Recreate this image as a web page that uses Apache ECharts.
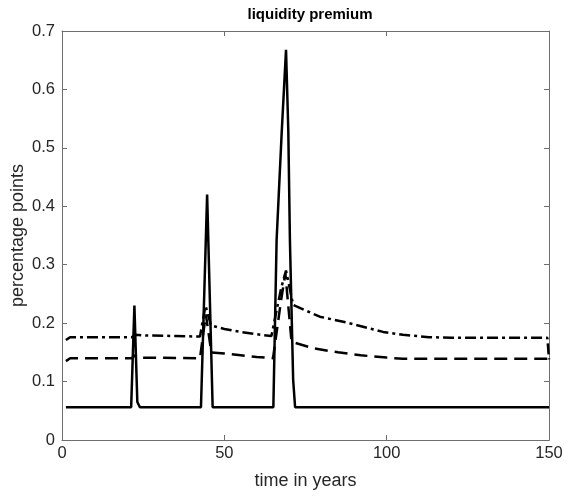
<!DOCTYPE html>
<html>
<head>
<meta charset="utf-8">
<script src="https://cdn.jsdelivr.net/npm/echarts@6/dist/echarts.min.js"></script>
<style>html,body{margin:0;padding:0;background:#fff}#c{width:570px;height:498px}</style>
</head>
<body>
<div id="c"></div>
<script>
// ---- data ----
var chartTitle = 'liquidity premium';
var xLabel = 'time in years';
var yLabel = 'percentage points';
var xTicks = [0, 50, 100, 150];
var yTicks = [0, 0.1, 0.2, 0.3, 0.4, 0.5, 0.6, 0.7];

var solidT = [1.2, 21.3, 22.3, 23.2, 24, 42.8, 44.7, 46.4, 65.1, 66.1, 67.7, 69.0, 69.7, 70.2, 71.2, 71.8, 150];
var solidV = [0.056, 0.056, 0.23, 0.065, 0.056, 0.056, 0.42, 0.056, 0.056, 0.342, 0.53, 0.668, 0.53, 0.342, 0.103, 0.056, 0.056];

var dashDotT = [1.2, 2.5, 21.5, 22.5, 25, 35, 42.5, 44.2, 45.9, 50, 55, 60, 64.5, 67.5, 69, 71.2, 79.4, 87.7, 98.9, 105, 113, 120, 149.5, 150];
var dashDotV = [0.171, 0.176, 0.176, 0.18, 0.179, 0.178, 0.177, 0.23, 0.196, 0.19, 0.185, 0.181, 0.178, 0.26, 0.29, 0.231, 0.211, 0.201, 0.185, 0.18, 0.176, 0.175, 0.175, 0.138];

var dashT = [1.2, 2.5, 21.5, 22.5, 23.5, 42.5, 44.3, 46, 50, 55, 60, 65, 67.5, 68.8, 70.7, 77.4, 85, 92, 100, 105, 150];
var dashV = [0.135, 0.14, 0.14, 0.145, 0.141, 0.14, 0.215, 0.15, 0.148, 0.145, 0.142, 0.14, 0.24, 0.285, 0.168, 0.157, 0.15, 0.145, 0.141, 0.139, 0.139];

function pairs(t, v) { return t.map(function (x, i) { return [x, v[i]]; }); }

var font = 'Liberation Sans, Arial, Helvetica, sans-serif';
var axisCol = '#6e6e6e';
var txtCol = '#262626';

function xAx(pos, show) {
  return {
    type: 'value', position: pos, min: xTicks[0], max: xTicks[xTicks.length - 1], interval: 50,
    name: show ? xLabel : '', nameLocation: 'middle', nameGap: 32, nameMoveOverlap: false,
    nameTextStyle: { fontFamily: font, fontSize: 18, color: txtCol },
    axisLine: { show: true, onZero: false, lineStyle: { color: axisCol, width: 1 } },
    axisTick: { show: true, inside: true, length: 5, lineStyle: { color: axisCol } },
    axisLabel: { show: show, fontFamily: font, fontSize: 16.5, color: txtCol, margin: 5,
      formatter: function (v) { return String(v); } },
    splitLine: { show: false }
  };
}
function yAx(pos, show) {
  return {
    type: 'value', position: pos, min: yTicks[0], max: yTicks[yTicks.length - 1], interval: 0.1,
    name: show ? yLabel : '', nameLocation: 'middle', nameGap: 35, nameMoveOverlap: false,
    nameTextStyle: { fontFamily: font, fontSize: 18, color: txtCol },
    axisLine: { show: true, onZero: false, lineStyle: { color: axisCol, width: 1 } },
    axisTick: { show: true, inside: true, length: 5, lineStyle: { color: axisCol } },
    axisLabel: { show: show, fontFamily: font, fontSize: 16.5, color: txtCol, margin: 7,
      formatter: function (v) { return String(+v.toFixed(1)); } },
    splitLine: { show: false }
  };
}

var chart = echarts.init(document.getElementById('c'), null, { renderer: 'canvas' });
chart.setOption({
  animation: false,
  backgroundColor: '#fff',
  title: {
    text: chartTitle, left: 305, top: 2, textAlign: 'center',
    textStyle: { fontFamily: font, fontSize: 15, fontWeight: 'bold', color: '#000' }
  },
  grid: { left: 62, right: 21, top: 31, bottom: 58, containLabel: false, outerBoundsMode: 'none' },
  xAxis: [xAx('bottom', true), xAx('top', false)],
  yAxis: [yAx('left', true), yAx('right', false)],
  series: [
    { type: 'line', data: pairs(solidT, solidV), showSymbol: false, symbol: 'none',
      lineStyle: { color: '#000', width: 2.5, type: 'solid' }, z: 3 },
    { type: 'line', data: pairs(dashDotT, dashDotV), showSymbol: false, symbol: 'none',
      lineStyle: { color: '#000', width: 2.5, type: [11, 4, 3, 4] }, z: 4 },
    { type: 'line', data: pairs(dashT, dashV), showSymbol: false, symbol: 'none',
      lineStyle: { color: '#000', width: 2.5, type: [13, 7] }, z: 4 }
  ]
});
</script>
</body>
</html>
